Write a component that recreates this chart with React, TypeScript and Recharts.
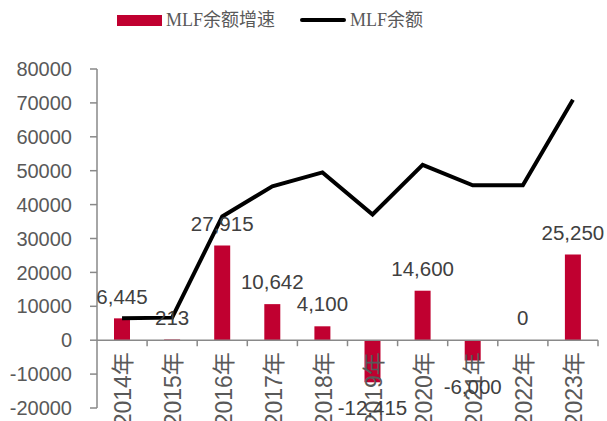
import { ComposedChart, Bar, Line, XAxis, YAxis, ReferenceLine, LabelList } from 'recharts'

const years = ['2014年', '2015年', '2016年', '2017年', '2018年', '2019年', '2020年', '2021年', '2022年', '2023年']
const growth = [6445, 213, 27915, 10642, 4100, -12415, 14600, -6000, 0, 25250]
const balance = [6445, 6658, 36500, 45400, 49500, 37100, 51700, 45700, 45700, 70950]
const yTicks = [-20000, -10000, 0, 10000, 20000, 30000, 40000, 50000, 60000, 70000, 80000]

const W = 607
const H = 421
const MARGIN = { top: 69, right: 9, bottom: 0, left: 7 }
const X_AXIS_H = 13
const Y_AXIS_W = 90
const PLOT_H = H - MARGIN.top - MARGIN.bottom - X_AXIS_H
const PLOT_W = W - MARGIN.left - MARGIN.right - Y_AXIS_W
const BAND = PLOT_W / years.length
const Y_MIN = -20000
const Y_MAX = 80000
const ZERO_FROM_BOTTOM = (PLOT_H * (0 - Y_MIN)) / (Y_MAX - Y_MIN)

const BAR_COLOR = '#C00030'
const AXIS_COLOR = '#898989'
const TEXT_COLOR = '#595959'
const LABEL_COLOR = '#404040'
const SANS = '"Liberation Sans", Arial, "Noto Sans CJK SC", sans-serif'
const SERIF = '"Liberation Serif", "Times New Roman", "Noto Sans CJK SC", serif'

const data = years.map((year, i) => ({ year, growth: growth[i], balance: balance[i] }))

// category labels hang from the zero line, not from the plot bottom
function YearTick(props: any) {
  const { x, y, payload } = props
  const zeroY = y - ZERO_FROM_BOTTOM
  const right = x + BAND / 2
  return (
    <g>
      <line x1={right} y1={zeroY} x2={right} y2={zeroY + 6} stroke={AXIS_COLOR} strokeWidth={1.5} />
      <g transform={`translate(${x + 1},${zeroY + 12}) rotate(-90)`}>
        <text x={0} y={0} dy="0.36em" textAnchor="end" fontSize={23} fontFamily={SANS} fill={TEXT_COLOR}>
          {payload.value}
        </text>
      </g>
    </g>
  )
}

function ValueLabel(props: any) {
  const { x, y, width, height, value } = props
  const top = Math.min(y, y + height)
  const bottom = Math.max(y, y + height)
  const cy = value >= 0 ? top - 22 : bottom + 26
  return (
    <text
      x={x + width / 2}
      y={cy}
      dy="0.35em"
      textAnchor="middle"
      fontSize={20.5}
      fontFamily={SANS}
      fill={LABEL_COLOR}
    >
      {Number(value).toLocaleString('en-US')}
    </text>
  )
}

function LegendRow() {
  const item = { display: 'flex', alignItems: 'center', gap: 4 }
  return (
    <div
      style={{
        position: 'absolute',
        left: 117,
        top: 8,
        display: 'flex',
        alignItems: 'center',
        gap: 25,
        fontFamily: SERIF,
        fontSize: 18,
        color: TEXT_COLOR,
        lineHeight: '24px',
      }}
    >
      <div style={item}>
        <span style={{ width: 45, height: 11, background: BAR_COLOR, display: 'inline-block' }} />
        <span>MLF余额增速</span>
      </div>
      <div style={item}>
        <span style={{ width: 46, height: 4, background: '#000', borderRadius: 2, display: 'inline-block' }} />
        <span>MLF余额</span>
      </div>
    </div>
  )
}

export default function App() {
  return (
    <div style={{ position: 'absolute', left: 0, top: 0, width: W, height: H, background: '#fff' }}>
      <ComposedChart width={W} height={H} data={data} margin={MARGIN}>
        <XAxis
          dataKey="year"
          height={X_AXIS_H}
          axisLine={false}
          tickLine={false}
          tickSize={0}
          tickMargin={0}
          interval={0}
          tick={<YearTick />}
        />
        <YAxis
          width={Y_AXIS_W}
          domain={[Y_MIN, Y_MAX]}
          ticks={yTicks}
          interval={0}
          axisLine={{ stroke: AXIS_COLOR, strokeWidth: 1.5 }}
          tickLine={{ stroke: AXIS_COLOR, strokeWidth: 1.5 }}
          tickSize={7}
          tickMargin={18}
          tick={{ fontSize: 20, fontFamily: SANS, fill: TEXT_COLOR }}
        />
        <ReferenceLine y={0} stroke={AXIS_COLOR} strokeWidth={1.5} />
        <Bar
          dataKey="growth"
          fill={BAR_COLOR}
          barSize={16}
          minPointSize={(v: number) => (v === 0 ? 0.01 : 0)}
          isAnimationActive={false}
        >
          <LabelList dataKey="growth" content={<ValueLabel />} />
        </Bar>
        <Line
          dataKey="balance"
          type="linear"
          stroke="#000"
          strokeWidth={4}
          dot={false}
          activeDot={false}
          isAnimationActive={false}
        />
      </ComposedChart>
      <LegendRow />
    </div>
  )
}
